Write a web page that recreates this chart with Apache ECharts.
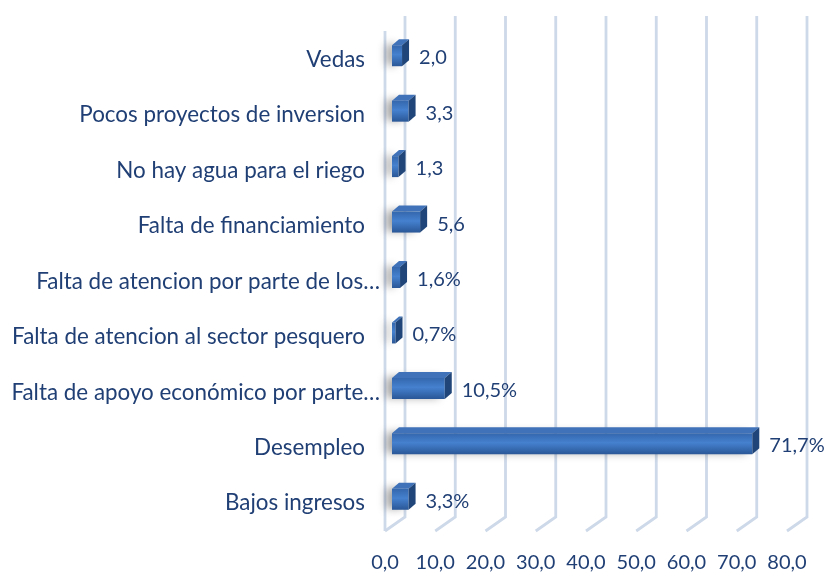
<!DOCTYPE html>
<html>
<head>
<meta charset="utf-8">
<script src="https://cdn.jsdelivr.net/npm/echarts@6/dist/echarts.min.js"></script>
<style>
  html, body { margin: 0; padding: 0; background: #ffffff; }
  #chart { width: 831px; height: 574px; }
</style>
</head>
<body>
<div id="chart"></div>
<script>
// Problems reported, listed from top to bottom
const categories = [
  'Vedas',
  'Pocos proyectos de inversion',
  'No hay agua para el riego',
  'Falta de financiamiento',
  'Falta de atencion por parte de los…',
  'Falta de atencion al sector pesquero',
  'Falta de apoyo económico por parte…',
  'Desempleo',
  'Bajos ingresos'
];
const values = [2.0, 3.3, 1.3, 5.6, 1.6, 0.7, 10.5, 71.7, 3.3];
const valueSuffix = ['', '', '', '', '%', '%', '%', '%', '%'];
const axisTicks = [0, 10, 20, 30, 40, 50, 60, 70, 80];

const TEXT = '#203F74';
const FONT = 'Lato';

// 3D look: depth shift of the back wall relative to the bar plane
const BACK_DX = 13, BACK_DY = -12;
const FRONT_DX = -7, FRONT_DY = 4;
const BAR_DX = 7, BAR_DY = -6, BAR_H = 21;

function fmt(v) { return v.toFixed(1).replace('.', ','); }

const chart = echarts.init(document.getElementById('chart'));

chart.setOption({
  animation: false,
  grid: { left: 392, right: 37, top: 28, bottom: 47 },
  xAxis: {
    type: 'value', min: 0, max: 80, interval: 10,
    axisLine: { show: false }, axisTick: { show: false }, splitLine: { show: false },
    axisLabel: {
      color: TEXT, fontFamily: FONT, fontSize: 20, margin: 26,
      padding: [0, 14, 0, 0],
      formatter: v => fmt(v)
    }
  },
  yAxis: {
    type: 'category', data: categories, inverse: true,
    axisLine: { show: false }, axisTick: { show: false }, splitLine: { show: false },
    axisLabel: {
      margin: 12,
      formatter: v => (v.endsWith('…') ? '{t|' + v + '}' : '{n|' + v + '}'),
      rich: {
        n: { color: TEXT, fontFamily: FONT, fontSize: 22.4, padding: [8, 15, 0, 0] },
        t: { color: TEXT, fontFamily: FONT, fontSize: 22.4, padding: [8, 0, 0, 0] }
      }
    }
  },
  series: [
    {
      // walls and floor grid lines
      type: 'custom',
      z: 1,
      silent: true,
      data: axisTicks.map(t => [t, 0]),
      encode: { x: 0, y: 1 },
      renderItem: function (params, api) {
        const cs = params.coordSys;
        const x = api.coord([api.value(0), 0])[0];
        const top = cs.y, bottom = cs.y + cs.height;
        const style = { stroke: '#cdd8e8', lineWidth: 2.8, fill: null };
        const children = [
          { type: 'polyline', shape: { points: [
            [x + BACK_DX, top + BACK_DY],
            [x + BACK_DX, bottom - 10],
            [x + FRONT_DX, bottom + FRONT_DY]
          ] }, style: style }
        ];
        if (params.dataIndex === 0) {
          children.push({ type: 'line', shape: {
            x1: x + FRONT_DX, y1: top + 3, x2: x + FRONT_DX, y2: bottom + FRONT_DY
          }, style: style });
        }
        return { type: 'group', children: children };
      }
    },
    {
      // 3D bars with value labels
      type: 'custom',
      z: 2,
      data: values.map((v, i) => [v, i]),
      encode: { x: 0, y: 1 },
      renderItem: function (params, api) {
        const v = api.value(0);
        const i = api.value(1);
        const s = api.coord([0, i]);
        const e = api.coord([v, i]);
        const y0 = s[1] - BAR_H / 2, y1 = s[1] + BAR_H / 2;
        const x0 = s[0], x1 = e[0];
        return {
          type: 'group',
          children: [
            {
              type: 'rect',
              shape: { x: x0, y: y0, width: x1 - x0, height: BAR_H },
              style: {
                fill: new echarts.graphic.LinearGradient(0, 0, 0, 1, [
                  { offset: 0, color: '#3467ad' },
                  { offset: 0.45, color: '#4581cf' },
                  { offset: 1, color: '#2a5797' }
                ]),
                shadowBlur: 8, shadowOffsetX: -6, shadowOffsetY: -1,
                shadowColor: 'rgba(0,0,0,0.35)'
              }
            },
            {
              type: 'polygon',
              shape: { points: [[x0, y0], [x0 + BAR_DX, y0 + BAR_DY], [x1 + BAR_DX, y0 + BAR_DY], [x1, y0]] },
              style: { fill: '#3f72b8' }
            },
            {
              type: 'polygon',
              shape: { points: [[x1, y0], [x1 + BAR_DX, y0 + BAR_DY], [x1 + BAR_DX, y1 + BAR_DY], [x1, y1]] },
              style: { fill: '#1f4579' }
            },
            {
              type: 'text',
              style: {
                x: x1 + 17, y: s[1] + 2,
                text: fmt(v) + valueSuffix[i],
                fill: TEXT, fontFamily: FONT, fontSize: 20,
                verticalAlign: 'middle', align: 'left'
              }
            }
          ]
        };
      }
    }
  ]
});
</script>
</body>
</html>
